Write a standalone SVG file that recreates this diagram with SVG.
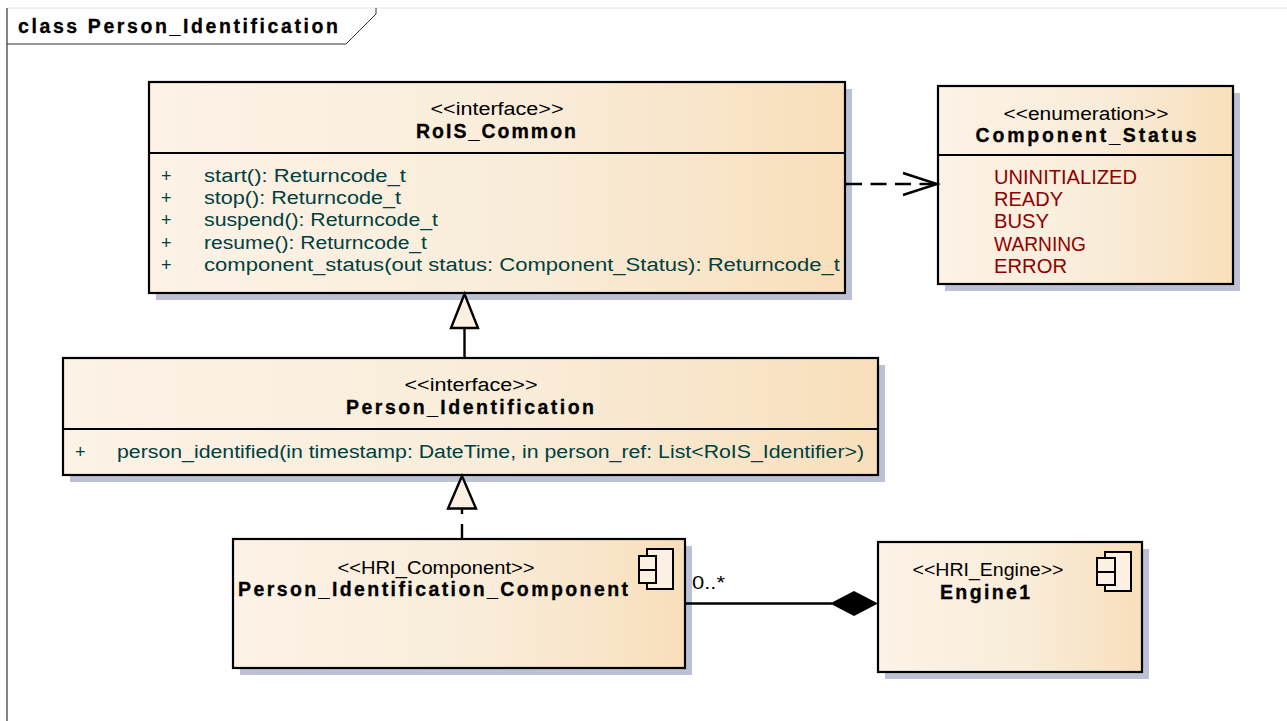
<svg xmlns="http://www.w3.org/2000/svg" width="1287" height="721" viewBox="0 0 1287 721">
<style>
text{font-family:"Liberation Sans",Arial,sans-serif;white-space:pre}
.box{fill:url(#g);stroke:#000;stroke-width:2.2}
.sh{fill:#bcc1d6}
.div{stroke:#000;stroke-width:2;fill:none}
.st{font-size:18px;fill:#000;text-anchor:middle}
.nm{font-size:19.500px;font-weight:700;fill:#000;text-anchor:middle;stroke:#000;stroke-width:.3}
.op{font-size:18px;fill:#004040}
.en{font-size:20px;fill:#8f0000}
.ln{stroke:#000;stroke-width:2.4;fill:none}
.ic{fill:#fbf0e2;stroke:#000;stroke-width:2}
</style>
<defs>
<linearGradient id="g" x1="0" y1="0" x2="1" y2="0"><stop offset="0" stop-color="#fcf2e6"/><stop offset=".55" stop-color="#f9ecd9"/><stop offset="1" stop-color="#f8dfbb"/></linearGradient>
</defs>
<rect width="1287" height="721" fill="#fff"/>
<g id="frame">
<path d="M7 8H1287" stroke="#e2e2e2" stroke-width="1" fill="none"/>
<path d="M7 8V721" stroke="#666" stroke-width="1.6" fill="none"/>
<path d="M7 44H346L376 14V8" stroke="#333" stroke-width="1" fill="none"/>
<text x="18" y="33" font-size="19.500" font-weight="700" stroke="#000" stroke-width=".3" textLength="320" lengthAdjust="spacing">class Person_Identification</text>
</g>
<g id="RoIS_Common">
<rect class="sh" x="156" y="89" width="696" height="211"/>
<rect class="box" x="149" y="82" width="696" height="211"/>
<path class="div" d="M149 153H845"/>
<text class="st" x="497" y="115" textLength="133" lengthAdjust="spacingAndGlyphs">&lt;&lt;interface&gt;&gt;</text>
<text class="nm" x="496" y="138" textLength="160" lengthAdjust="spacing">RoIS_Common</text>
<text class="op" x="161" y="182">+</text><text class="op" x="204" y="182" textLength="202" lengthAdjust="spacingAndGlyphs">start(): Returncode_t</text>
<text class="op" x="161" y="204">+</text><text class="op" x="204" y="204" textLength="197" lengthAdjust="spacingAndGlyphs">stop(): Returncode_t</text>
<text class="op" x="161" y="226">+</text><text class="op" x="204" y="226" textLength="234" lengthAdjust="spacingAndGlyphs">suspend(): Returncode_t</text>
<text class="op" x="161" y="249">+</text><text class="op" x="204" y="249" textLength="223" lengthAdjust="spacingAndGlyphs">resume(): Returncode_t</text>
<text class="op" x="161" y="271">+</text><text class="op" x="204" y="271" textLength="636" lengthAdjust="spacingAndGlyphs">component_status(out status: Component_Status): Returncode_t</text>
</g>
<g id="Component_Status">
<rect class="sh" x="945" y="93" width="295" height="198"/>
<rect class="box" x="938" y="86" width="295" height="198"/>
<path class="div" d="M938 155H1233"/>
<text class="st" x="1086" y="120" textLength="165" lengthAdjust="spacingAndGlyphs">&lt;&lt;enumeration&gt;&gt;</text>
<text class="nm" x="1086" y="142" textLength="221" lengthAdjust="spacing">Component_Status</text>
<text class="en" x="994" y="184" textLength="143" lengthAdjust="spacingAndGlyphs">UNINITIALIZED</text>
<text class="en" x="994" y="206" textLength="69" lengthAdjust="spacingAndGlyphs">READY</text>
<text class="en" x="994" y="228" textLength="55" lengthAdjust="spacingAndGlyphs">BUSY</text>
<text class="en" x="994" y="251" textLength="92" lengthAdjust="spacingAndGlyphs">WARNING</text>
<text class="en" x="994" y="273" textLength="73" lengthAdjust="spacingAndGlyphs">ERROR</text>
</g>
<g id="Person_Identification">
<rect class="sh" x="70" y="365" width="815" height="117"/>
<rect class="box" x="63" y="358" width="815" height="117"/>
<path class="div" d="M63 429H878"/>
<text class="st" x="471" y="391" textLength="133" lengthAdjust="spacingAndGlyphs">&lt;&lt;interface&gt;&gt;</text>
<text class="nm" x="470" y="414" textLength="248" lengthAdjust="spacing">Person_Identification</text>
<text class="op" x="75" y="458">+</text><text class="op" x="117" y="458" textLength="747" lengthAdjust="spacingAndGlyphs">person_identified(in timestamp: DateTime, in person_ref: List&lt;RoIS_Identifier&gt;)</text>
</g>
<g id="Person_Identification_Component">
<rect class="sh" x="240" y="546" width="452" height="129"/>
<rect class="box" x="233" y="539" width="452" height="129"/>
<text class="st" x="436" y="574" textLength="197" lengthAdjust="spacingAndGlyphs">&lt;&lt;HRI_Component&gt;&gt;</text>
<text class="nm" x="433" y="596" textLength="390" lengthAdjust="spacing">Person_Identification_Component</text>
<rect class="ic" x="647" y="549" width="26" height="40"/>
<rect class="ic" x="639" y="556" width="17" height="14"/>
<rect class="ic" x="639" y="570" width="17" height="13"/>
</g>
<g id="Engine1">
<rect class="sh" x="885" y="549" width="264" height="130"/>
<rect class="box" x="878" y="542" width="264" height="130"/>
<text class="st" x="988" y="576" textLength="151" lengthAdjust="spacingAndGlyphs">&lt;&lt;HRI_Engine&gt;&gt;</text>
<text class="nm" x="985" y="599" textLength="90" lengthAdjust="spacing">Engine1</text>
<rect class="ic" x="1105" y="552" width="26" height="39"/>
<rect class="ic" x="1097" y="558" width="18" height="14"/>
<rect class="ic" x="1097" y="572" width="18" height="13"/>
</g>
<g id="connectors">
<path class="ln" d="M846 184H936" stroke-dasharray="16 8.500"/>
<path class="ln" d="M903 173L937 184L903 195"/>
<path class="ln" d="M464.500 328V357"/>
<path d="M464.500 294L451 328H478Z" fill="#fbf0e2" stroke="#000" stroke-width="2.400"/>
<path class="ln" d="M462 508V538" stroke-dasharray="6 10 14"/>
<path d="M462 476L448 508.500H476Z" fill="#fbf0e2" stroke="#000" stroke-width="2.400"/>
<path class="ln" d="M685 603.500H832"/>
<path d="M878 603.500L854 591L830 603.500L854 616Z" fill="#000"/>
<text x="692" y="589" font-size="18" fill="#000" textLength="33" lengthAdjust="spacingAndGlyphs">0..*</text>
</g>
</svg>
